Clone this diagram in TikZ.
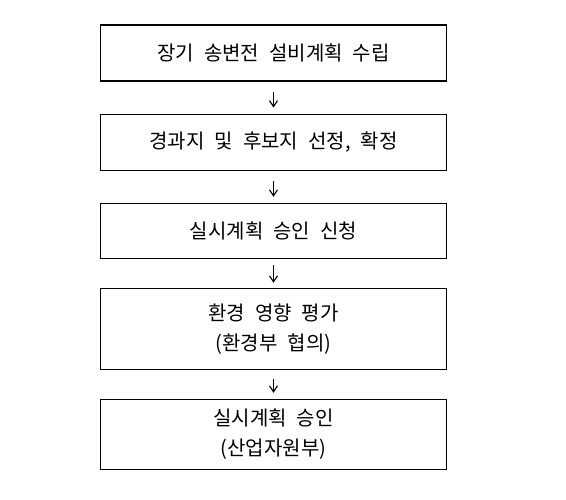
\documentclass[tikz,border=0pt]{standalone}
\usepackage{fontspec}
\setmainfont{Noto Sans CJK KR}
\usetikzlibrary{arrows.meta}
\newcommand\myboxfont{\fontsize{20}{30}\selectfont\spaceskip=0.5em\relax}
\begin{document}
\begin{tikzpicture}[x=1pt,y=-1pt,
  stepbox/.style={draw=black,line width=1.4pt,minimum width=346pt,inner sep=0pt,align=center,font=\myboxfont},
  flow/.style={line width=1.1pt,-{Straight Barb[length=6pt,width=8pt]}}]
\useasboundingbox (0,0) rectangle (566,499);
\node[stepbox,minimum height=56pt] (b1) at (273.5,53) {장기 송변전 설비계획 수립};
\node[stepbox,minimum height=56.5pt] (b2) at (273.5,142.5) {경과지 및 후보지 선정, 확정};
\node[stepbox,minimum height=55pt] (b3) at (273.5,231) {실시계획 승인 신청};
\node[stepbox,minimum height=81pt] (b4) at (273.5,329) {환경 영향 평가\\(환경부 협의)};
\node[stepbox,minimum height=70pt] (b5) at (273.5,434.5) {실시계획 승인\\(산업자원부)};
\draw[flow,shorten <=10pt,shorten >=6pt] (b1) -- (b2);
\draw[flow,shorten <=10pt,shorten >=6pt] (b2) -- (b3);
\draw[flow,shorten <=6pt,shorten >=5pt] (b3) -- (b4);
\draw[flow,shorten <=9pt,shorten >=6pt] (b4) -- (b5);
\end{tikzpicture}
\end{document}
